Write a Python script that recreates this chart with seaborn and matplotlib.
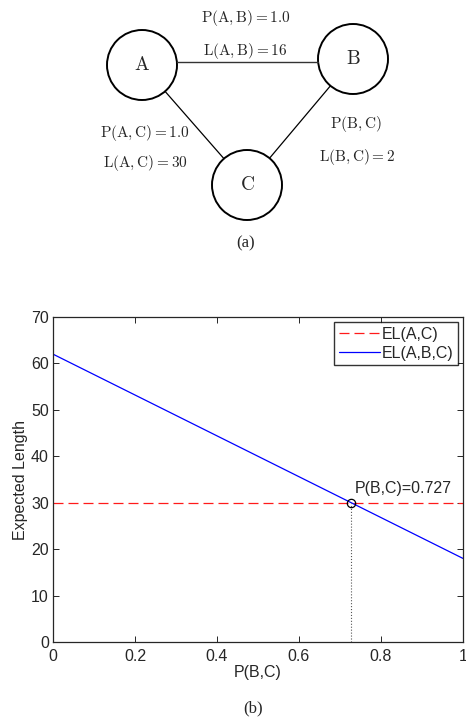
import numpy as np
import pandas as pd
import seaborn as sns
import matplotlib.pyplot as plt
from matplotlib.patches import Circle

sns.set_style('ticks')
plt.rcParams['font.family'] = ['Liberation Sans', 'DejaVu Sans']
plt.rcParams['mathtext.fontset'] = 'cm'
plt.rcParams['xtick.direction'] = 'in'
plt.rcParams['ytick.direction'] = 'in'

# graph (a): nodes and edge labels
nodes = ['A', 'B', 'C']
node_x = [142, 353, 247]
node_y = [65, 59, 185]
edge_labels = [r'$\mathrm{P(A,B)} = 1.0$', r'$\mathrm{L(A,B)} = 16$',
               r'$\mathrm{P(A,C)} = 1.0$', r'$\mathrm{L(A,C)} = 30$',
               r'$\mathrm{P(B,C)}$', r'$\mathrm{L(B,C)} = 2$']
label_x = [246, 245, 145, 145, 356, 357]
label_y = [18, 51, 133, 163, 124, 157]

# plot (b): expected length vs P(B,C)
p_bc = [0, 1]
el_ac = [30, 30]
el_abc = [62, 18]
p_cross = 0.727

fig = plt.figure(figsize=(4.66, 7.2), dpi=100)

# top diagram drawn in pixel coordinates
ax_top = fig.add_axes([0, 0, 1, 1])
ax_top.set_xlim(0, 466)
ax_top.set_ylim(720, 0)
ax_top.axis('off')
r = 35
# edges, clipped at circle borders
for i, j in [(0, 1), (0, 2), (1, 2)]:
    x0, y0, x1, y1 = node_x[i], node_y[i], node_x[j], node_y[j]
    d = np.hypot(x1 - x0, y1 - y0)
    ux, uy = (x1 - x0) / d, (y1 - y0) / d
    if (i, j) == (0, 1):
        ym = (y0 + y1) / 2
        ax_top.plot([x0 + r, x1 - r], [ym, ym], color='#333333', lw=1.0)
    else:
        ax_top.plot([x0 + ux * r, x1 - ux * r], [y0 + uy * r, y1 - uy * r], color='black', lw=0.9)
for name, x, y in zip(nodes, node_x, node_y):
    ax_top.add_patch(Circle((x, y), r, fill=False, edgecolor='black', lw=1.4))
    ax_top.text(x, y, r'$\mathrm{' + name + '}$', ha='center', va='center', fontsize=14)
for t, x, y in zip(edge_labels, label_x, label_y):
    ax_top.text(x, y, t, ha='center', va='center', fontsize=11)
ax_top.text(246, 243, '(a)', ha='center', va='center', fontsize=12, family='Liberation Serif')
ax_top.text(253, 708, '(b)', ha='center', va='center', fontsize=12, family='Liberation Serif')

# bottom line plot
ax = fig.add_axes([53 / 466, 78 / 720, 410 / 466, 325 / 720])
df = pd.DataFrame({'p': p_bc + p_bc,
                   'el': el_ac + el_abc,
                   'series': ['EL(A,C)'] * 2 + ['EL(A,B,C)'] * 2})
sns.lineplot(data=df, x='p', y='el', hue='series', style='series',
             palette={'EL(A,C)': '#ff1a1a', 'EL(A,B,C)': '#0000ff'},
             dashes={'EL(A,C)': (8, 4), 'EL(A,B,C)': ''},
             linewidth=0.9, ax=ax)
ax.plot([p_cross, p_cross], [0, el_ac[0]], color='#555555', lw=0.8, linestyle=':')
ax.plot([p_cross], [el_ac[0]], marker='o', markersize=6, markerfacecolor='none',
        markeredgecolor='black', markeredgewidth=0.9)
ax.text(p_cross + 0.008, el_ac[0] + 2.2, 'P(B,C)=%.3f' % p_cross, fontsize=11.5)

ax.set_xlim(0, 1)
ax.set_ylim(0, 70)
ax.set_xticks(np.arange(0, 1.01, 0.2))
ax.set_xticklabels(['0', '0.2', '0.4', '0.6', '0.8', '1'])
ax.set_yticks(range(0, 71, 10))
ax.tick_params(labelsize=11.5, top=True, right=True, length=4, width=0.7, pad=3)
ax.tick_params(axis='x', pad=5)
for s in ax.spines.values():
    s.set_linewidth(0.9)
    s.set_visible(True)
ax.set_xlabel('P(B,C)', fontsize=11.5, labelpad=1)
ax.set_ylabel('Expected Length', fontsize=11.5, labelpad=2)
leg = ax.legend(loc='upper right', fontsize=11.5, handlelength=2.6, handletextpad=0.1,
                borderpad=0.3, labelspacing=0.25, fancybox=False, borderaxespad=0.3)
leg.get_frame().set_edgecolor('black')
leg.get_frame().set_linewidth(1.0)

fig.savefig('out.png', dpi=100)
